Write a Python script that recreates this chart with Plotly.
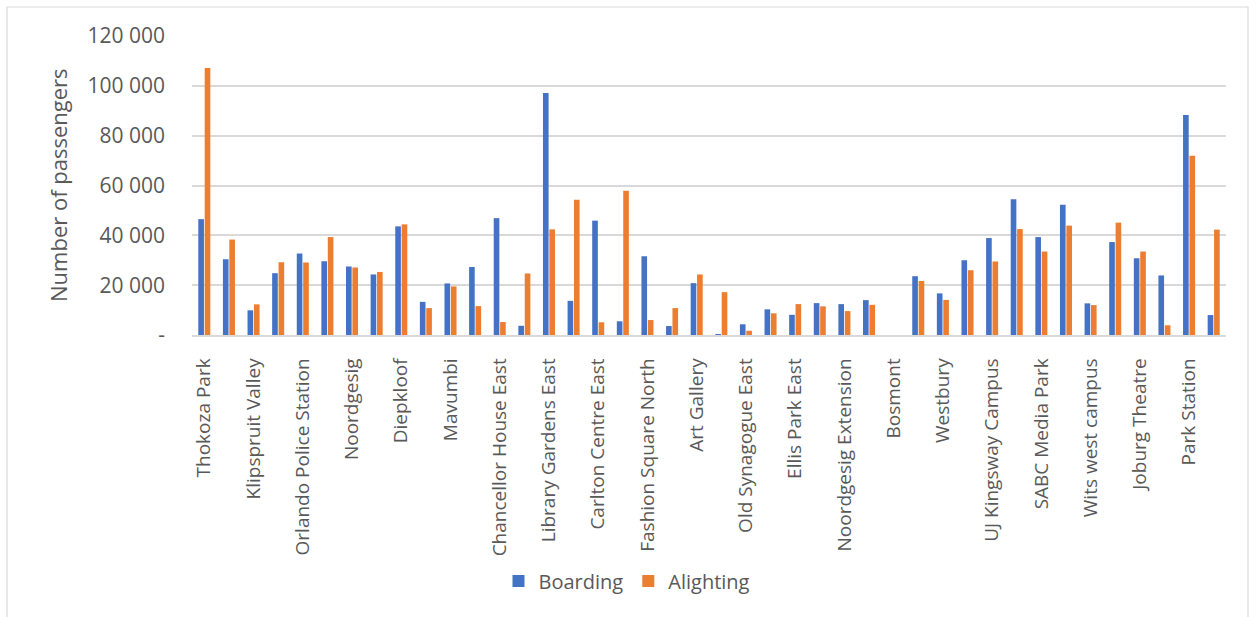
import plotly.graph_objects as go

# Rea Vaya stations in route order; only every second station is labelled on the axis
station_labels = [
    "Thokoza Park", "Klipspruit Valley", "Orlando Police Station", "Noordgesig",
    "Diepkloof", "Mavumbi", "Chancellor House East", "Library Gardens East",
    "Carlton Centre East", "Fashion Square North", "Art Gallery", "Old Synagogue East",
    "Ellis Park East", "Noordgesig Extension", "Bosmont", "Westbury",
    "UJ Kingsway Campus", "SABC Media Park", "Wits west campus", "Joburg Theatre",
    "Park Station",
]

boarding = [
    46500, 30400, 9900, 24800, 32700, 29600, 27500, 24300, 43600, 13300, 20700,
    27300, 46900, 3700, 97100, 13700, 45900, 5500, 31600, 3600, 20800, 400,
    4300, 10300, 8100, 12800, 12400, 14000, None, 23600, 16700, 30000, 38900,
    54500, 39300, 52300, 12700, 37300, 30800, 23900, 88300, 8000,
]
alighting = [
    107200, 38300, 12300, 29200, 29100, 39300, 27100, 25300, 44400, 10800, 19500,
    11600, 5200, 24700, 42400, 54300, 5100, 57900, 6000, 10800, 24300, 17200,
    1700, 8700, 12400, 11500, 9600, 12100, None, 21700, 14100, 26000, 29500,
    42500, 33500, 43900, 12000, 45100, 33500, 3900, 71900, 42300,
]

y_tick_values = [0, 20000, 40000, 60000, 80000, 100000, 120000]
y_tick_text = ["-", "20 000", "40 000", "60 000", "80 000", "100 000", "120 000"]

station_index = list(range(len(boarding)))
labelled_index = station_index[::2]

TEXT = "#595959"
GRID = "#D9D9D9"
FONT = "Open Sans"

fig = go.Figure()
fig.add_trace(go.Bar(x=station_index, y=boarding, name="Boarding",
                     marker=dict(color="#4472C4", line=dict(width=0))))
fig.add_trace(go.Bar(x=station_index, y=alighting, name="Alighting",
                     marker=dict(color="#ED7D31", line=dict(width=0))))

W, H = 1257, 617
L, R, T, B = 192, 31, 36, 282
pw, ph = W - L - R, H - T - B

def px_x(x):
    return (x - L) / pw

def px_y(y):
    return (H - B - y) / ph

fig.update_layout(
    width=W, height=H,
    margin=dict(l=L, r=R, t=T, b=B, autoexpand=False),
    paper_bgcolor="white", plot_bgcolor="white",
    barmode="group", bargap=0.48, bargroupgap=0.12,
    font=dict(family=FONT, color=TEXT),
    showlegend=True,
    legend=dict(orientation="h", x=px_x(627), y=px_y(581), xanchor="center",
                yanchor="middle", font=dict(size=20, color=TEXT),
                itemwidth=30, tracegroupgap=0),
    xaxis=dict(
        range=[-0.5, len(boarding) - 0.5],
        tickmode="array", tickvals=labelled_index, ticktext=station_labels,
        tickangle=-90, tickfont=dict(size=19, color=TEXT),
        showgrid=False, zeroline=False, ticks="",
        showline=True, linecolor=GRID, linewidth=1.5,
        ticklabelstandoff=14,
    ),
    yaxis=dict(
        range=[0, 120000],
        tickmode="array", tickvals=y_tick_values, ticktext=y_tick_text,
        tickfont=dict(size=21, color=TEXT),
        showgrid=True, gridcolor=GRID, gridwidth=1.5,
        zeroline=False, showline=False, ticks="",
        ticklabelstandoff=26,
    ),
    annotations=[dict(
        text="Number of passengers", textangle=-90, showarrow=False,
        xref="paper", yref="paper", x=px_x(58), y=px_y(185),
        xanchor="center", yanchor="middle", font=dict(size=22, color=TEXT),
    )],
    shapes=[dict(
        type="rect", xref="paper", yref="paper",
        x0=px_x(7), x1=px_x(1248), y0=px_y(640), y1=px_y(7),
        line=dict(color=GRID, width=1.2), fillcolor="rgba(0,0,0,0)", layer="below",
    )],
)

fig.write_html("out.html")
